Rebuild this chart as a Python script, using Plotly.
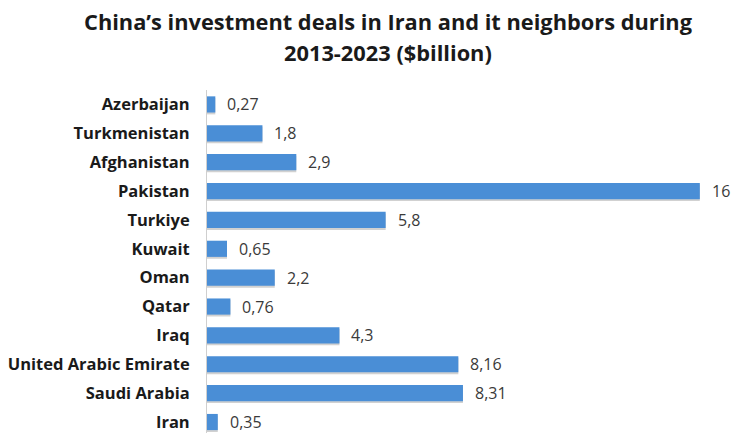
import plotly.graph_objects as go

# Investment deals, $ billion (bottom to top)
countries = ["Iran", "Saudi Arabia", "United Arabic Emirate", "Iraq", "Qatar", "Oman",
             "Kuwait", "Turkiye", "Pakistan", "Afghanistan", "Turkmenistan", "Azerbaijan"]
values = [0.35, 8.31, 8.16, 4.3, 0.76, 2.2, 0.65, 5.8, 16, 2.9, 1.8, 0.27]
title_lines = ["China’s investment deals in Iran and it neighbors during",
               "2013-2023 ($billion)"]


def fmt(v):
    s = f"{v:g}"
    return s.replace(".", ",")


labels = [fmt(v) for v in values]
pos = list(range(len(countries)))

BAR = "#4a8ed6"
SHADOW = "rgba(90,90,90,0.28)"
W, H = 733, 433
PLOT_L, PLOT_R, PLOT_TOP = 207, 7, 90
PLOT_W = W - PLOT_L - PLOT_R
PLOT_H = H - PLOT_TOP

fig = go.Figure()

# soft drop shadow behind each bar
fig.add_trace(go.Bar(
    x=values, y=[p - 0.06 for p in pos], orientation="h",
    marker=dict(color=SHADOW, line=dict(width=0)),
    width=0.57, hoverinfo="skip", showlegend=False,
))
fig.add_trace(go.Bar(
    x=values, y=pos, orientation="h",
    marker=dict(color=BAR, line=dict(width=0)),
    width=0.56, showlegend=False,
))

for p, v, t in zip(pos, values, labels):
    fig.add_annotation(x=v, y=p, text=t, showarrow=False, xanchor="left",
                       yanchor="middle", xshift=10,
                       font=dict(family="Open Sans", size=16, color="#3a3a3a"))

# two-line title placed as paper annotations above the plot area
title_cx = (388 - PLOT_L) / PLOT_W
for line, py in zip(title_lines, [21, 53]):
    fig.add_annotation(x=title_cx, xref="paper", xanchor="center",
                       y=(H - py) / PLOT_H, yref="paper", yanchor="middle",
                       text=line, showarrow=False,
                       font=dict(family="Open Sans", size=21.8, color="#1a1a1a",
                                 weight="bold"))

fig.update_layout(
    width=W, height=H,
    margin=dict(l=PLOT_L, r=PLOT_R, t=PLOT_TOP, b=0),
    paper_bgcolor="white", plot_bgcolor="white",
    barmode="overlay",
    xaxis=dict(range=[0, 16.85], visible=False, showgrid=False, zeroline=False),
    yaxis=dict(
        range=[-0.38, 11.5], tickmode="array", tickvals=pos, ticktext=countries,
        showgrid=False, zeroline=False, showline=True, linecolor="#cfcfcf",
        linewidth=1, ticks="", ticklabelstandoff=13,
        tickfont=dict(family="Open Sans", size=16.5, color="#1a1a1a", weight="bold"),
    ),
)

fig.write_html("out.html")
